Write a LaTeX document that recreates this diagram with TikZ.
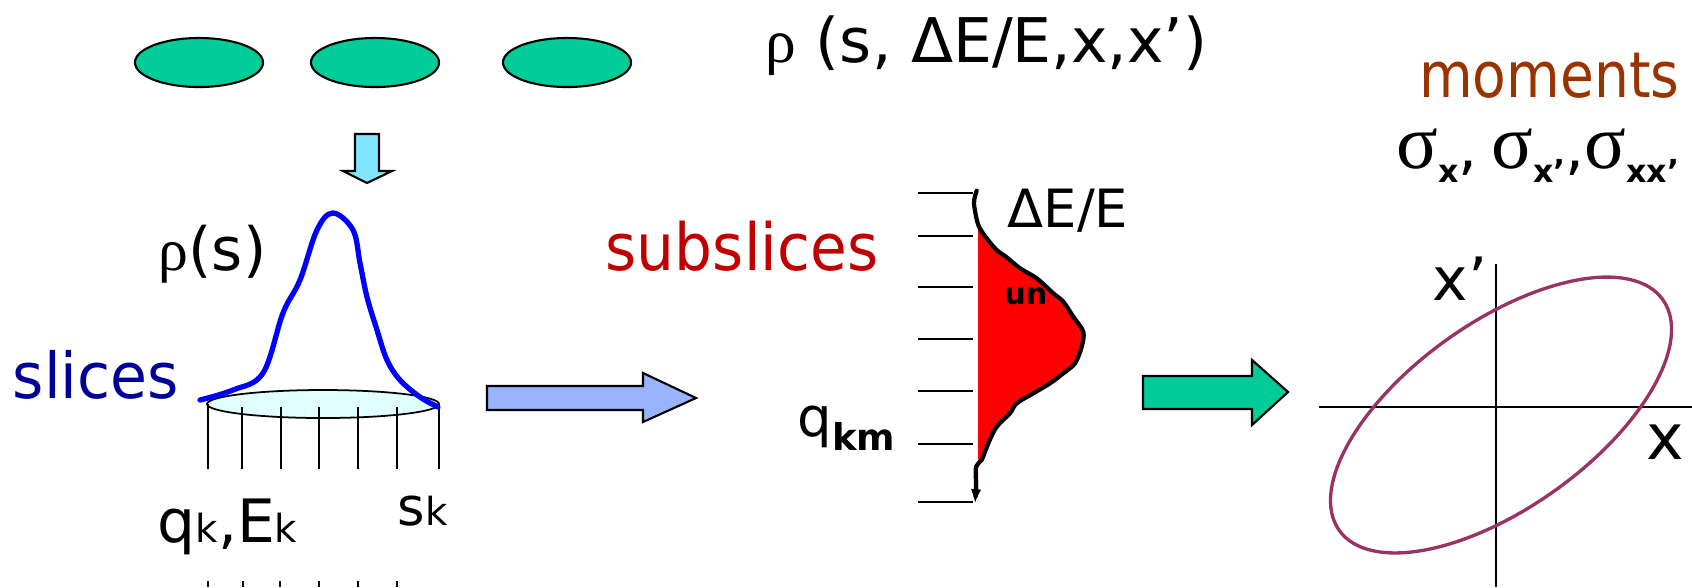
\documentclass[tikz,border=0pt]{standalone}
\usepackage{fontspec}
\setmainfont{DejaVu Sans}
\newfontfamily\grk{Liberation Serif}
\usetikzlibrary{arrows.meta, shapes.geometric}

\definecolor{bunchgreen}{HTML}{00CC99}
\definecolor{downcyan}{HTML}{80E6FF}
\definecolor{slicecyan}{HTML}{E0FFFF}
\definecolor{slicesblue}{HTML}{000099}
\definecolor{subred}{HTML}{C00000}
\definecolor{arrowblue}{HTML}{99B3FF}
\definecolor{emitpurple}{HTML}{993366}
\definecolor{momentbrown}{HTML}{993300}

\newcommand{\setfs}[1]{\fontsize{#1}{#1}\selectfont}
\newcommand{\lowsub}[2][10pt]{\raisebox{-4pt}{\setfs{#1}\bfseries #2}}
\newcommand{\narrowtxt}[2]{\scalebox{#1}[1]{#2}}

\begin{document}
\begin{tikzpicture}[x=0.01cm, y=-0.01cm,
  bunch/.style={ellipse, draw, line width=0.6pt, fill=bunchgreen,
    minimum width=1.28cm, minimum height=0.49cm, inner sep=0},
  lbl/.style={inner sep=0, anchor=base west},
  blockarrow/.style={draw, line width=0.6pt},
  tick/.style={line width=0.5pt},
  profile/.style={line width=1.2pt, line cap=round, line join=round}
]
\useasboundingbox (0,0) rectangle (1692,587);

% bunches and full distribution
\node[bunch] (b1) at (199,62.5) {};
\node[bunch] (b2) at (375,62.5) {};
\node[bunch] (b3) at (567,62.5) {};
\node[lbl, font=\setfs{17.5pt}] (dist) at (765,62) {{\grk ρ} (s, ΔE/E,x,x’)};

\draw[blockarrow, fill=downcyan] (355,134) -- (379,134) -- (379,171) -- (392,171)
  -- (367,183) -- (343,171) -- (355,171) -- cycle;

% longitudinal slices
\draw[line width=0.5pt, fill=slicecyan] (323,404) ellipse [x radius=116, y radius=14];
\foreach \x in {208,439} \draw[tick] (\x,404) -- (\x,469);
\foreach \x in {242,281,319,358,397} \draw[tick] (\x,407) -- (\x,469);
\foreach \x in {208,243,280,319,358,397} \draw[tick] (\x,581) -- (\x,587);
\draw[blue, line width=1.5pt, line cap=round] plot[smooth, tension=0.6] coordinates {
  (200,400) (233,390) (263,373) (283,313) (300,280) (317,230) (333,213)
  (353,230) (360,263) (367,297) (377,330) (387,360) (400,380) (420,397) (438,407)};

\node[lbl, font=\setfs{17pt}] (rhos) at (158,270) {{\grk ρ}(s)};
\node[lbl, font=\setfs{18pt}, text=slicesblue] (slices) at (12,398) {\narrowtxt{0.95}{slices}};
\node[lbl, font=\setfs{17pt}] (qk) at (157,542) {q{\setfs{11pt}k},E{\setfs{11pt}k}};
\node[lbl, font=\setfs{15pt}] (sk) at (397,525) {s{\setfs{11pt}k}};

\draw[blockarrow, fill=arrowblue] (487,386) -- (643,386) -- (643,373) -- (696,398)
  -- (643,422) -- (643,410) -- (487,410) -- cycle;

% energy subslices
\node[lbl, font=\setfs{18.5pt}, text=subred] (subslices) at (605,270) {\narrowtxt{0.92}{subslices}};
\foreach \y in {193,236,287,339,391,444,502} \draw[tick] (918,\y) -- (973,\y);
\fill[red] (978,225) -- plot[smooth, tension=0.5] coordinates {
  (986.7,238.3) (996.7,250) (1006.7,257.3) (1020,268.3) (1036.7,278.3) (1053.3,293.3)
  (1063.3,301.7) (1073.3,316.7) (1083.3,331.7) (1081.7,346.7) (1075,363.3) (1063.3,373.3)
  (1050,383.3) (1033.3,393.3) (1016.7,403.3) (1010,413.3) (996.7,426.7) (988.3,443.3)
  (981.7,460) (977,470)} -- (978,490) -- cycle;
\draw[profile, -{Latex[length=4pt,width=3pt]}] plot[smooth, tension=0.5] coordinates {
  (976.7,190.7) (974,203.3) (978.3,225) (986.7,238.3) (996.7,250) (1006.7,257.3)
  (1020,268.3) (1036.7,278.3) (1053.3,293.3) (1063.3,301.7) (1073.3,316.7) (1083.3,331.7)
  (1081.7,346.7) (1075,363.3) (1063.3,373.3) (1050,383.3) (1033.3,393.3) (1016.7,403.3)
  (1010,413.3) (996.7,426.7) (988.3,443.3) (981.7,460) (976,466.7) (976,486.7) (975,503.3)};
\node[lbl, font=\setfs{15pt}] (dee) at (1007,227) {ΔE/E};
\node[lbl, font=\setfs{8.5pt}\bfseries] (un) at (1004,304) {un};
\node[lbl, font=\setfs{15.5pt}] (qkm) at (797,436) {q\lowsub[10.5pt]{km}};

\draw[blockarrow, fill=bunchgreen] (1143,376) -- (1252,376) -- (1252,360) -- (1288,392)
  -- (1252,425) -- (1252,409) -- (1143,409) -- cycle;

% phase space and moments
\node[inner sep=0, anchor=base east, font=\setfs{18pt}, text=momentbrown] (moments) at (1680,97)
  {\narrowtxt{0.87}{moments}};
\node[inner sep=0, anchor=base east, font=\setfs{17pt}] (sigmas) at (1680,168)
  {{\grk\setfs{22pt}σ}\lowsub[9pt]{x},\hspace{4pt}{\grk\setfs{22pt}σ}\lowsub[9pt]{x’},{\grk\setfs{22pt}σ}\lowsub[9pt]{xx’}};
\draw[tick] (1319,407) -- (1692,407);
\draw[tick] (1496,264) -- (1496,587);
\draw[emitpurple, line width=0.95pt, rotate around={35.5:(1501,415)}]
  (1501,415) ellipse [x radius=198.7, y radius=92.8];
\node[lbl, font=\setfs{17pt}] (xp) at (1432,300) {x’};
\node[lbl, font=\setfs{18pt}] (xx) at (1646,459) {x};
\end{tikzpicture}
\end{document}
